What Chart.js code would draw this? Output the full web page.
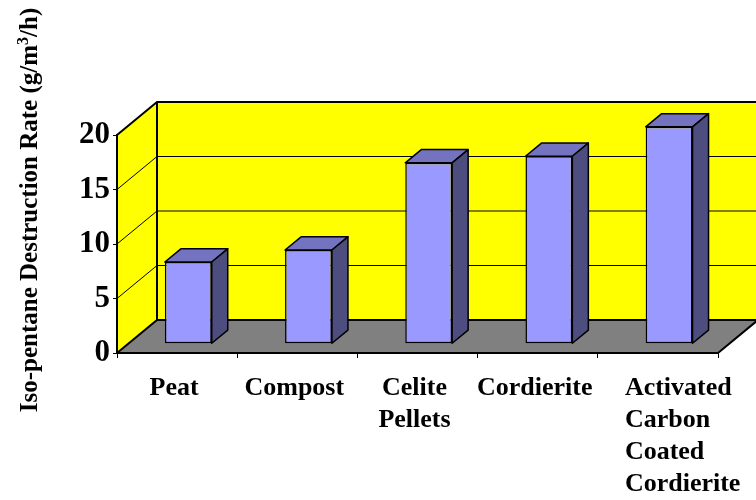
<!DOCTYPE html>
<html><head><meta charset="utf-8">
<script src="https://cdn.jsdelivr.net/npm/chart.js@4.4.1/dist/chart.umd.min.js"></script>
<style>html,body{margin:0;padding:0;background:#fff;}</style>
</head><body>
<canvas id="c" width="756" height="500" style="width:756px;height:500px;display:block"></canvas>
<script>
const categories = [["Peat"], ["Compost"], ["Celite", "Pellets"], ["Cordierite"], ["Activated", "Carbon", "Coated", "Cordierite"]];
const destructionRate = [7.5, 8.6, 16.6, 17.2, 19.9];
const yTicks = [0, 5, 10, 15, 20];
const yTitleParts = ["Iso-pentane Destruction Rate (g/m", "3", "/h)"];

const SERIF = '"Liberation Serif", "Times New Roman", serif';
const depth = { dx: 40, dy: -33, barFront: 0.28, barDepth: 0.4 };

const wallsPlugin = {
  id: 'walls',
  beforeDraw(chart) {
    const { ctx, chartArea: a, scales: { y } } = chart;
    const dx = depth.dx, dy = depth.dy;
    ctx.save();
    ctx.fillStyle = '#FFFF00';
    ctx.fillRect(a.left + dx, a.top + dy, a.right - a.left, a.bottom - a.top);
    ctx.beginPath();
    ctx.moveTo(a.left, a.bottom); ctx.lineTo(a.left, a.top);
    ctx.lineTo(a.left + dx, a.top + dy); ctx.lineTo(a.left + dx, a.bottom + dy);
    ctx.closePath(); ctx.fill();
    ctx.fillStyle = '#808080';
    ctx.beginPath();
    ctx.moveTo(a.left, a.bottom); ctx.lineTo(a.right, a.bottom);
    ctx.lineTo(a.right + dx, a.bottom + dy); ctx.lineTo(a.left + dx, a.bottom + dy);
    ctx.closePath(); ctx.fill();
    ctx.strokeStyle = '#000';
    ctx.lineWidth = 1;
    yTicks.forEach(v => {
      if (v <= y.min || v >= y.max) return;
      const py = y.getPixelForValue(v);
      ctx.beginPath();
      ctx.moveTo(a.left, py); ctx.lineTo(a.left + dx, py + dy); ctx.lineTo(a.right + dx, py + dy);
      ctx.stroke();
    });
    ctx.lineWidth = 2;
    ctx.beginPath();
    ctx.moveTo(a.left, a.top); ctx.lineTo(a.left + dx, a.top + dy); ctx.lineTo(a.right + dx, a.top + dy);
    ctx.moveTo(a.left + dx, a.top + dy); ctx.lineTo(a.left + dx, a.bottom + dy);
    ctx.moveTo(a.left, a.bottom); ctx.lineTo(a.left + dx, a.bottom + dy); ctx.lineTo(a.right + dx, a.bottom + dy);
    ctx.moveTo(a.right, a.bottom); ctx.lineTo(a.right + dx, a.bottom + dy);
    ctx.stroke();
    ctx.restore();
  },
  beforeDatasetsDraw(chart) {
    chart.ctx.save();
    chart.ctx.translate(depth.dx * depth.barFront, depth.dy * depth.barFront);
  },
  afterDatasetsDraw(chart) {
    const ctx = chart.ctx;
    const bx = depth.dx * depth.barDepth, by = depth.dy * depth.barDepth;
    chart.getDatasetMeta(0).data.forEach(bar => {
      const { x, y, base, width } = bar.getProps(['x', 'y', 'base', 'width'], true);
      const l = x - width / 2, r = x + width / 2;
      ctx.lineWidth = 1.5; ctx.strokeStyle = '#000'; ctx.lineJoin = 'round';
      ctx.fillStyle = '#7373C0';
      ctx.beginPath();
      ctx.moveTo(l, y); ctx.lineTo(r, y); ctx.lineTo(r + bx, y + by); ctx.lineTo(l + bx, y + by);
      ctx.closePath(); ctx.fill(); ctx.stroke();
      ctx.fillStyle = '#4D4D80';
      ctx.beginPath();
      ctx.moveTo(r, y); ctx.lineTo(r + bx, y + by); ctx.lineTo(r + bx, base + by); ctx.lineTo(r, base);
      ctx.closePath(); ctx.fill(); ctx.stroke();
    });
    ctx.restore();
  },
  afterDraw(chart) {
    const { ctx, chartArea: a, scales: { x } } = chart;
    ctx.save();
    ctx.fillStyle = '#000';
    ctx.font = 'bold 26px ' + SERIF;
    ctx.textBaseline = 'middle';
    categories.forEach((lines, i) => {
      const cx = x.getPixelForValue(i);
      const leftAligned = lines.length > 2;
      ctx.textAlign = leftAligned ? 'left' : 'center';
      const tx = leftAligned ? cx - 33 : cx - 3;
      lines.forEach((t, j) => ctx.fillText(t, tx, a.bottom + 35 + j * 32));
    });
    // y axis title, rotated
    ctx.translate(37, 210);
    ctx.rotate(-Math.PI / 2);
    ctx.textAlign = 'left';
    ctx.textBaseline = 'alphabetic';
    const big = 'bold 25px ' + SERIF, small = 'bold 16px ' + SERIF;
    ctx.font = big; const w0 = ctx.measureText(yTitleParts[0]).width, w2 = ctx.measureText(yTitleParts[2]).width;
    ctx.font = small; const w1 = ctx.measureText(yTitleParts[1]).width;
    let px = -(w0 + w1 + w2) / 2;
    ctx.font = big; ctx.fillText(yTitleParts[0], px, 0); px += w0;
    ctx.font = small; ctx.fillText(yTitleParts[1], px, -9); px += w1;
    ctx.font = big; ctx.fillText(yTitleParts[2], px, 0);
    ctx.restore();
  }
};

new Chart(document.getElementById('c'), {
  type: 'bar',
  data: {
    labels: categories.map(c => c.join(' ')),
    datasets: [{
      data: destructionRate,
      backgroundColor: '#9999FF',
      borderColor: '#000',
      borderWidth: 1.5,
      borderSkipped: false,
      barPercentage: 0.39,
      categoryPercentage: 1,
      clip: false
    }]
  },
  options: {
    responsive: false,
    animation: false,
    devicePixelRatio: 1,
    layout: { padding: { left: 73, right: 38, top: 135, bottom: 0 } },
    plugins: { legend: { display: false }, tooltip: { enabled: false }, title: { display: false } },
    scales: {
      x: {
        type: 'category',
        ticks: { display: false },
        grid: { display: true, drawOnChartArea: false, drawTicks: true, tickLength: 5, color: '#000', offset: true },
        border: { display: true, color: '#000', width: 2 },
        afterFit(s) { s.height = 147; }
      },
      y: {
        min: 0, max: 20,
        afterBuildTicks(s) { s.ticks = yTicks.map(v => ({ value: v })); },
        ticks: { color: '#000', padding: 3, font: { family: SERIF, size: 31, weight: 'bold' } },
        grid: { display: true, drawOnChartArea: false, drawTicks: true, tickLength: 4, color: '#000' },
        border: { display: true, color: '#000', width: 2 },
        afterFit(s) { s.width = 44; }
      }
    }
  },
  plugins: [wallsPlugin]
});
</script>
</body></html>
